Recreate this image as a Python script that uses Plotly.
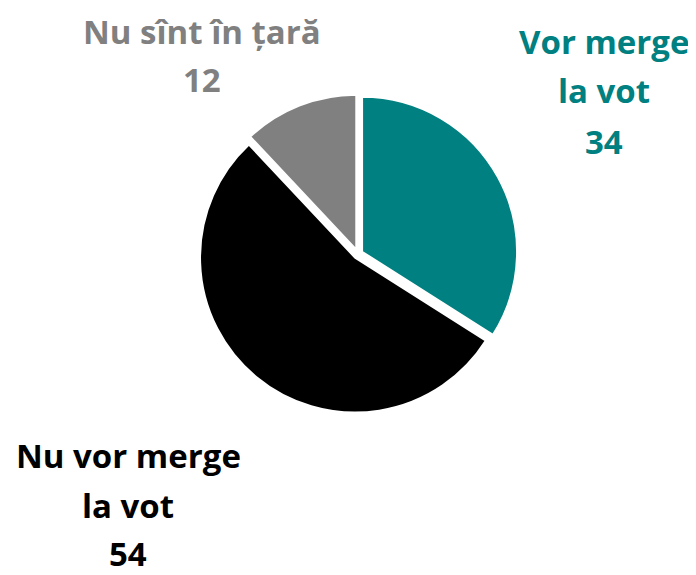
import plotly.graph_objects as go

labels = ["Vor merge la vot", "Nu vor merge la vot", "Nu sînt în țară"]
values = [34, 54, 12]
colors = ["#008080", "#000000", "#808080"]
label_lines = [["Vor merge", "la vot"], ["Nu vor merge", "la vot"], ["Nu sînt în țară"]]

W, H = 696, 575

def px(x):
    return x / W

def py(y):
    return 1 - y / H

cx, cy, r, pull = 350, 246, 155, 0.03
R = r * (1 + pull)

fig = go.Figure(go.Pie(
    labels=labels,
    values=values,
    marker=dict(colors=colors, line=dict(color="white", width=2)),
    pull=[pull, pull, pull],
    sort=False,
    direction="clockwise",
    rotation=0,
    textinfo="none",
    hoverinfo="label+value",
    showlegend=False,
    domain=dict(x=[px(cx - R), px(cx + R)], y=[py(cy + R), py(cy - R)]),
))

# label anchor positions (pixel centres of each text line)
label_pos = [(596, [42, 91, 142]), (120, [456, 506, 554]), (194, [32, 80])]

annotations = []
for i, (x, ys) in enumerate(label_pos):
    lines = label_lines[i] + [str(values[i])]
    for line, y in zip(lines, ys):
        annotations.append(dict(
            x=px(x), y=py(y - 9), xref="paper", yref="paper",
            text=f"<b>{line}</b>", showarrow=False,
            xanchor="center", yanchor="middle",
            font=dict(family="Open Sans", size=33, color=colors[i]),
        ))

fig.update_layout(
    width=W, height=H,
    margin=dict(l=0, r=0, t=0, b=0),
    paper_bgcolor="white",
    plot_bgcolor="white",
    annotations=annotations,
)

fig.write_html("out.html")
